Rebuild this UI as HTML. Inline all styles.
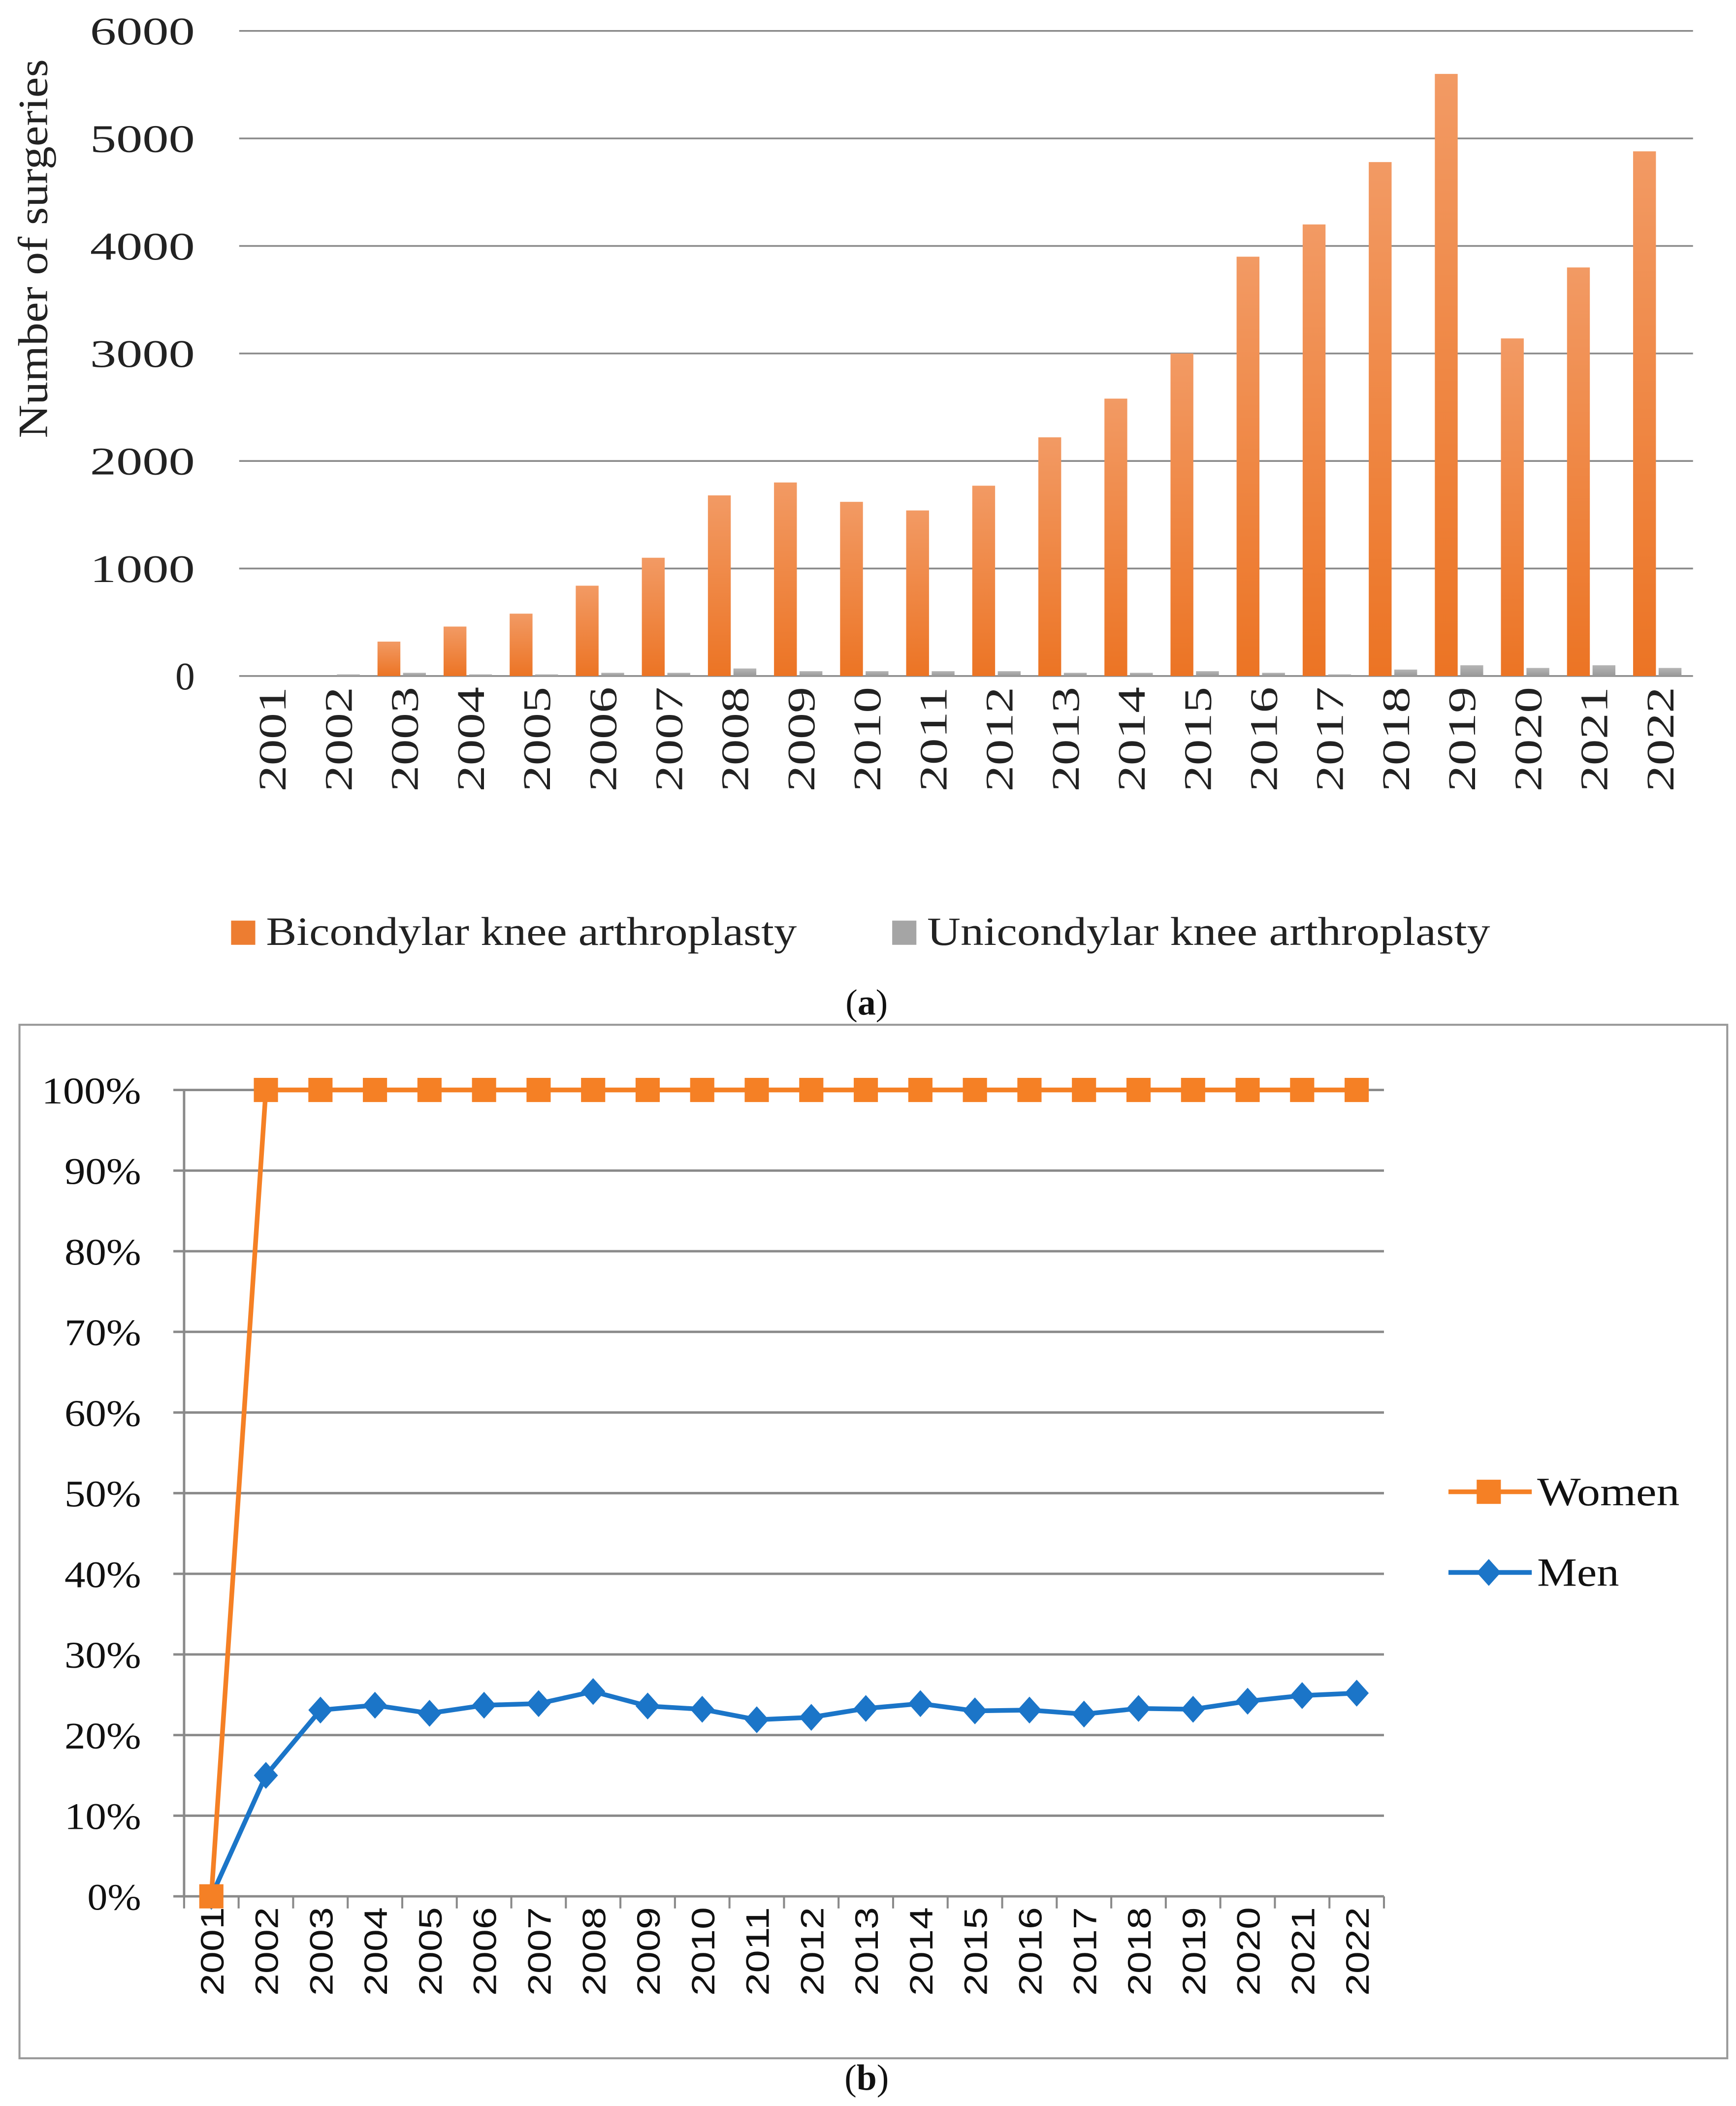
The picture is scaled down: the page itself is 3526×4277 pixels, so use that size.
<!DOCTYPE html>
<html><head><meta charset="utf-8"><style>
html,body{margin:0;padding:0;background:#fff;}
svg{display:block;}
</style></head><body>
<svg id="root" width="3526" height="4277" viewBox="0 0 1292 1567" preserveAspectRatio="none" xmlns="http://www.w3.org/2000/svg">
<defs>
<linearGradient id="og" x1="0" y1="0" x2="0" y2="1"><stop offset="0" stop-color="#F29A64"/><stop offset="1" stop-color="#EC7424"/></linearGradient>
<linearGradient id="gg" x1="0" y1="0" x2="0" y2="1"><stop offset="0" stop-color="#B5B5B5"/><stop offset="1" stop-color="#999"/></linearGradient>
</defs>
<g id="chartA"></g>
<g id="chartB"></g>
</svg>
<script>
const years = ["2001","2002","2003","2004","2005","2006","2007","2008","2009","2010","2011","2012","2013","2014","2015","2016","2017","2018","2019","2020","2021","2022"];
const bicondylar = [0,0,320,460,580,840,1100,1680,1800,1620,1540,1770,2220,2580,3000,3900,4200,4780,5600,3140,3800,4880];
const unicondylar = [0,15,30,15,15,30,30,70,45,45,45,45,30,30,45,30,15,60,100,75,100,75];
const aTicks = [0,1000,2000,3000,4000,5000,6000];
const women = [0,100,100,100,100,100,100,100,100,100,100,100,100,100,100,100,100,100,100,100,100,100];
const men = [0,15,23.1,23.7,22.7,23.7,23.9,25.4,23.6,23.2,21.9,22.2,23.3,23.9,23.0,23.1,22.6,23.3,23.2,24.2,24.9,25.2];
const bTicks = [0,10,20,30,40,50,60,70,80,90,100];

const NS="http://www.w3.org/2000/svg";
function mk(parent,tag,attrs,text){const e=document.createElementNS(NS,tag);for(const k in attrs)e.setAttribute(k,attrs[k]);if(text!==undefined)e.textContent=text;parent.appendChild(e);return e;}
const SERIF='Liberation Serif, serif';

// ---- Chart A ----
const A=document.getElementById('chartA');
const ax0=178, ax1=1260, ay0=503, ay1=23;
const aY=v=>ay0-(v/6000)*(ay0-ay1);
const aBand=(ax1-ax0)/years.length;
const aX=i=>ax0+aBand*(i+0.5);
aTicks.forEach(t=>{
  const l=mk(A,'line',{x1:ax0,x2:ax1,y1:aY(t),y2:aY(t),stroke:'#8a8a8a','stroke-width':1.3});
  
  
  const s=String(t);
  const attrs={x:145,y:aY(t)+10,'text-anchor':'end','font-family':SERIF,'font-size':29,fill:'#222'};
  if(s.length>1){attrs.textLength=s.length*19.5;attrs.lengthAdjust='spacingAndGlyphs';}
  const tx=mk(A,'text',attrs,s);
  
  
});
years.forEach((y,i)=>{
  const c=aX(i);
  const b=mk(A,'rect',{x:c-20,y:aY(bicondylar[i]),width:17,height:ay0-aY(bicondylar[i]),fill:'url(#og)'});
  
  
  const g=mk(A,'rect',{x:c-1,y:aY(unicondylar[i]),width:17,height:ay0-aY(unicondylar[i]),fill:'url(#gg)'});
  
  
  const t=mk(A,'text',{transform:`translate(${c+10},511) rotate(-90)`,'text-anchor':'end','font-family':SERIF,'font-size':29,fill:'#222',textLength:78,lengthAdjust:'spacingAndGlyphs'},y);
  
  
});
const at=mk(A,'text',{transform:'translate(35,185) rotate(-90)','text-anchor':'middle','font-family':SERIF,'font-size':31,fill:'#222',textLength:282,lengthAdjust:'spacingAndGlyphs'},'Number of surgeries');


const l1=mk(A,'rect',{x:172,y:685,width:18,height:18,fill:'#ED7D31'});


const l1t=mk(A,'text',{x:198,y:703,'font-family':SERIF,'font-size':30,fill:'#222',textLength:395,lengthAdjust:'spacingAndGlyphs'},'Bicondylar knee arthroplasty');


const l2=mk(A,'rect',{x:664,y:685,width:18,height:18,fill:'#A5A5A5'});


const l2t=mk(A,'text',{x:690,y:703,'font-family':SERIF,'font-size':30,fill:'#222',textLength:419,lengthAdjust:'spacingAndGlyphs'},'Unicondylar knee arthroplasty');


const ca=mk(A,'text',{x:645,y:755,'text-anchor':'middle','font-family':SERIF,'font-size':27,fill:'#111'},'');
ca.innerHTML='(<tspan font-weight="bold">a</tspan>)';



// ---- Chart B ----
const B=document.getElementById('chartB');
const box=mk(B,'rect',{x:14.5,y:762.5,width:1271,height:769,fill:'none',stroke:'#999','stroke-width':1.5});


const bx0=137, bx1=1030, by0=1411, by1=811;
const bY=v=>by0-(v/100)*(by0-by1);
const bBand=(bx1-bx0)/years.length;
const bX=i=>bx0+bBand*(i+0.5);
bTicks.forEach(t=>{
  const l=mk(B,'line',{x1:bx0-8,x2:bx1,y1:bY(t),y2:bY(t),stroke:'#8a8a8a','stroke-width':1.8});
  
  
  const s=t+'%';
  const tx=mk(B,'text',{x:105,y:bY(t)+10,'text-anchor':'end','font-family':SERIF,'font-size':28,fill:'#111',textLength:(s.length-1)*17+23,lengthAdjust:'spacingAndGlyphs'},s);
  
  
});
const yax=mk(B,'line',{x1:bx0,x2:bx0,y1:by1,y2:by0,stroke:'#8a8a8a','stroke-width':1.8});


for(let i=0;i<=years.length;i++){
  const x=bx0+bBand*i;
  const tk=mk(B,'line',{x1:x,x2:x,y1:by0,y2:by0+9,stroke:'#8a8a8a','stroke-width':1.5});
  
  
}
years.forEach((y,i)=>{
  const t=mk(B,'text',{transform:`translate(${bX(i)+9},1419) rotate(-90)`,'text-anchor':'end','font-family':'Liberation Sans, sans-serif','font-size':24,fill:'#111',textLength:66,lengthAdjust:'spacingAndGlyphs'},y);
  
  
});
const mp=mk(B,'polyline',{points:men.map((v,i)=>bX(i)+','+bY(v)).join(' '),fill:'none',stroke:'#1B75C8','stroke-width':3.5});


men.forEach((v,i)=>{
  const x=bX(i),y=bY(v);
  const d=mk(B,'polygon',{points:`${x},${y-10} ${x+9},${y} ${x},${y+10} ${x-9},${y}`,fill:'#1B75C8'});
  
  
});
const wp=mk(B,'polyline',{points:women.map((v,i)=>bX(i)+','+bY(v)).join(' '),fill:'none',stroke:'#F58025','stroke-width':3.5});


women.forEach((v,i)=>{
  const r=mk(B,'rect',{x:bX(i)-9,y:bY(v)-9,width:18,height:18,fill:'#F58025'});
  
  
});
const lw=mk(B,'line',{x1:1078,x2:1140,y1:1110,y2:1110,stroke:'#F58025','stroke-width':3.5});


const lwm=mk(B,'rect',{x:1099,y:1101,width:18,height:18,fill:'#F58025'});


const lwt=mk(B,'text',{x:1144,y:1120,'font-family':SERIF,'font-size':30,fill:'#111',textLength:106,lengthAdjust:'spacingAndGlyphs'},'Women');


const lm=mk(B,'line',{x1:1078,x2:1140,y1:1170,y2:1170,stroke:'#1B75C8','stroke-width':3.5});


const lmm=mk(B,'polygon',{points:'1108,1160 1117,1170 1108,1180 1099,1170',fill:'#1B75C8'});


const lmt=mk(B,'text',{x:1144,y:1180,'font-family':SERIF,'font-size':30,fill:'#111',textLength:61,lengthAdjust:'spacingAndGlyphs'},'Men');


const cb=mk(B,'text',{x:645,y:1555,'text-anchor':'middle','font-family':SERIF,'font-size':27,fill:'#111'},'');
cb.innerHTML='(<tspan font-weight="bold">b</tspan>)';


</script>
</body></html>
